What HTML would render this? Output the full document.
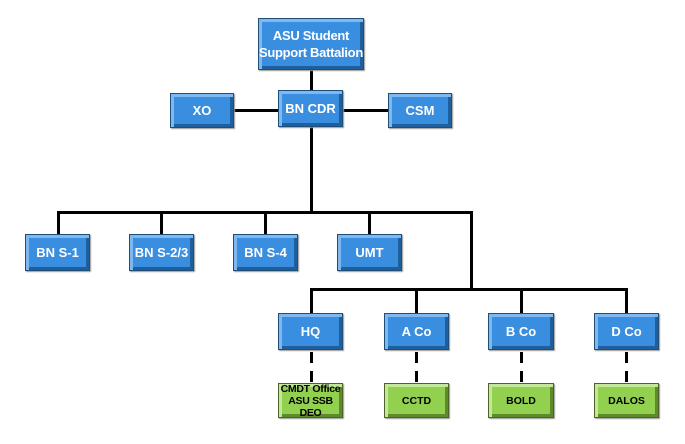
<!DOCTYPE html>
<html><head><style>
body{margin:0;width:685px;height:444px;background:#fff;position:relative;overflow:hidden;font-family:"Liberation Sans",Arial,sans-serif}
.l{position:absolute;background:#000}
.b{position:absolute;box-sizing:border-box;border:1px solid #1f4e79;background:#3a8ee0;color:#fff;font-weight:bold;font-size:13px;display:flex;align-items:center;justify-content:center;text-align:center;line-height:14px;white-space:nowrap;
box-shadow:inset 3px 3px 0 #7db8f0,inset -3px -3px 0 #1f5f9e,1px 1px 1px #999}
.g{background:#92d050;color:#000;border-color:#4f6228;font-size:10.5px;line-height:12px;box-shadow:inset 3px 3px 0 #c3e89a,inset -3px -3px 0 #5f8a2a,1px 1px 1px #999}
.d{position:absolute;width:3px;background:repeating-linear-gradient(#000 0 11px,transparent 11px 19px)}
</style></head><body>
<div class="l" style="left:310px;top:70px;width:3px;height:20px"></div>
<div class="l" style="left:234px;top:109px;width:44px;height:3px"></div>
<div class="l" style="left:343px;top:109px;width:45px;height:3px"></div>
<div class="l" style="left:310px;top:127px;width:3px;height:85px"></div>
<div class="l" style="left:57px;top:211px;width:416px;height:3px"></div>
<div class="l" style="left:57px;top:211px;width:3px;height:23px"></div>
<div class="l" style="left:160px;top:211px;width:3px;height:23px"></div>
<div class="l" style="left:264px;top:211px;width:3px;height:23px"></div>
<div class="l" style="left:368px;top:211px;width:3px;height:23px"></div>
<div class="l" style="left:470px;top:211px;width:3px;height:78px"></div>
<div class="l" style="left:310px;top:288px;width:318px;height:3px"></div>
<div class="l" style="left:310px;top:288px;width:3px;height:25px"></div>
<div class="l" style="left:415px;top:288px;width:3px;height:25px"></div>
<div class="l" style="left:520px;top:288px;width:3px;height:25px"></div>
<div class="l" style="left:625px;top:288px;width:3px;height:25px"></div>
<div class="d" style="left:310px;top:352px;height:31px"></div>
<div class="d" style="left:415px;top:352px;height:31px"></div>
<div class="d" style="left:520px;top:352px;height:31px"></div>
<div class="d" style="left:625px;top:352px;height:31px"></div>

<div class="b" style="left:258px;top:18px;width:106px;height:52px;font-size:13px;line-height:17px;letter-spacing:-0.3px">ASU Student<br>Support Battalion</div>
<div class="b" style="left:170px;top:93px;width:64px;height:35px">XO</div>
<div class="b" style="left:278px;top:90px;width:65px;height:37px">BN CDR</div>
<div class="b" style="left:388px;top:93px;width:64px;height:35px">CSM</div>
<div class="b" style="left:25px;top:234px;width:65px;height:37px">BN S-1</div>
<div class="b" style="left:129px;top:234px;width:65px;height:37px">BN S-2/3</div>
<div class="b" style="left:233px;top:234px;width:65px;height:37px">BN S-4</div>
<div class="b" style="left:337px;top:234px;width:65px;height:37px">UMT</div>
<div class="b" style="left:278px;top:313px;width:65px;height:37px">HQ</div>
<div class="b" style="left:384px;top:313px;width:65px;height:37px">A Co</div>
<div class="b" style="left:488px;top:313px;width:66px;height:37px">B Co</div>
<div class="b" style="left:594px;top:313px;width:65px;height:37px">D Co</div>
<div class="b g" style="left:278px;top:383px;width:65px;height:35px;letter-spacing:-0.3px">CMDT Office<br>ASU SSB<br>DEO</div>
<div class="b g" style="left:384px;top:383px;width:65px;height:35px">CCTD</div>
<div class="b g" style="left:488px;top:383px;width:66px;height:35px">BOLD</div>
<div class="b g" style="left:594px;top:383px;width:65px;height:35px">DALOS</div>
</body></html>
